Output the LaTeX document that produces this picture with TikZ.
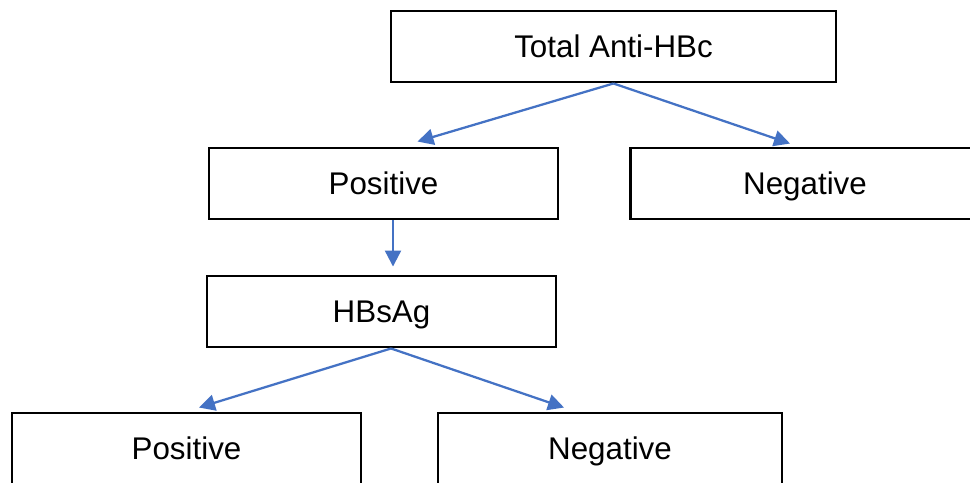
\documentclass[tikz,border=0pt]{standalone}
\usepackage{fontspec}
\setmainfont{Liberation Sans}
\usetikzlibrary{arrows.meta,calc}
\definecolor{arrowblue}{HTML}{4472C4}

\begin{document}
\begin{tikzpicture}[x=0.75pt,y=-0.75pt,
    testbox/.style={draw=black, line width=2.2pt, minimum height=71*0.75pt,
        inner sep=0pt, text height=16.8pt, text depth=0pt,
        font=\fontsize{23.5}{28}\selectfont},
    flow/.style={draw=arrowblue, line width=1.7pt,
        -{Triangle[length=12pt,width=12pt]}}]
    \useasboundingbox (0,0) rectangle (970,482);

    % draw boxes
    \node[testbox, minimum width=445*0.75pt] (anti) at (613.5,46.5) {Total Anti-HBc};
    \node[testbox, minimum width=349*0.75pt] (pos) at (383.5,183.5) {Positive};
    \node[testbox, minimum width=349*0.75pt] (neg) at (805,183.5) {Negative};
    \node[testbox, minimum width=349*0.75pt] (hbs) at (381.5,311.5) {HBsAg};
    \node[testbox, minimum width=349*0.75pt] (hbspos) at (186.5,448.5) {Positive};
    \node[testbox, minimum width=344*0.75pt] (hbsneg) at (610,448.5) {Negative};

    % draw arrows
    \draw[flow] (anti.south) -- ($(pos.north)+(34,-5)$);
    \draw[flow] (anti.south) -- ($(neg.north)+(-15,-3)$);
    \draw[flow] ($(pos.south)+(9.5,0)$) -- ($(hbs.north)+(11.5,-8)$);
    \draw[flow] ($(hbs.south)+(9.5,0)$) -- ($(hbspos.north)+(12.5,-4)$);
    \draw[flow] ($(hbs.south)+(9.5,0)$) -- ($(hbsneg.north)+(-46,-4)$);
\end{tikzpicture}
\end{document}
